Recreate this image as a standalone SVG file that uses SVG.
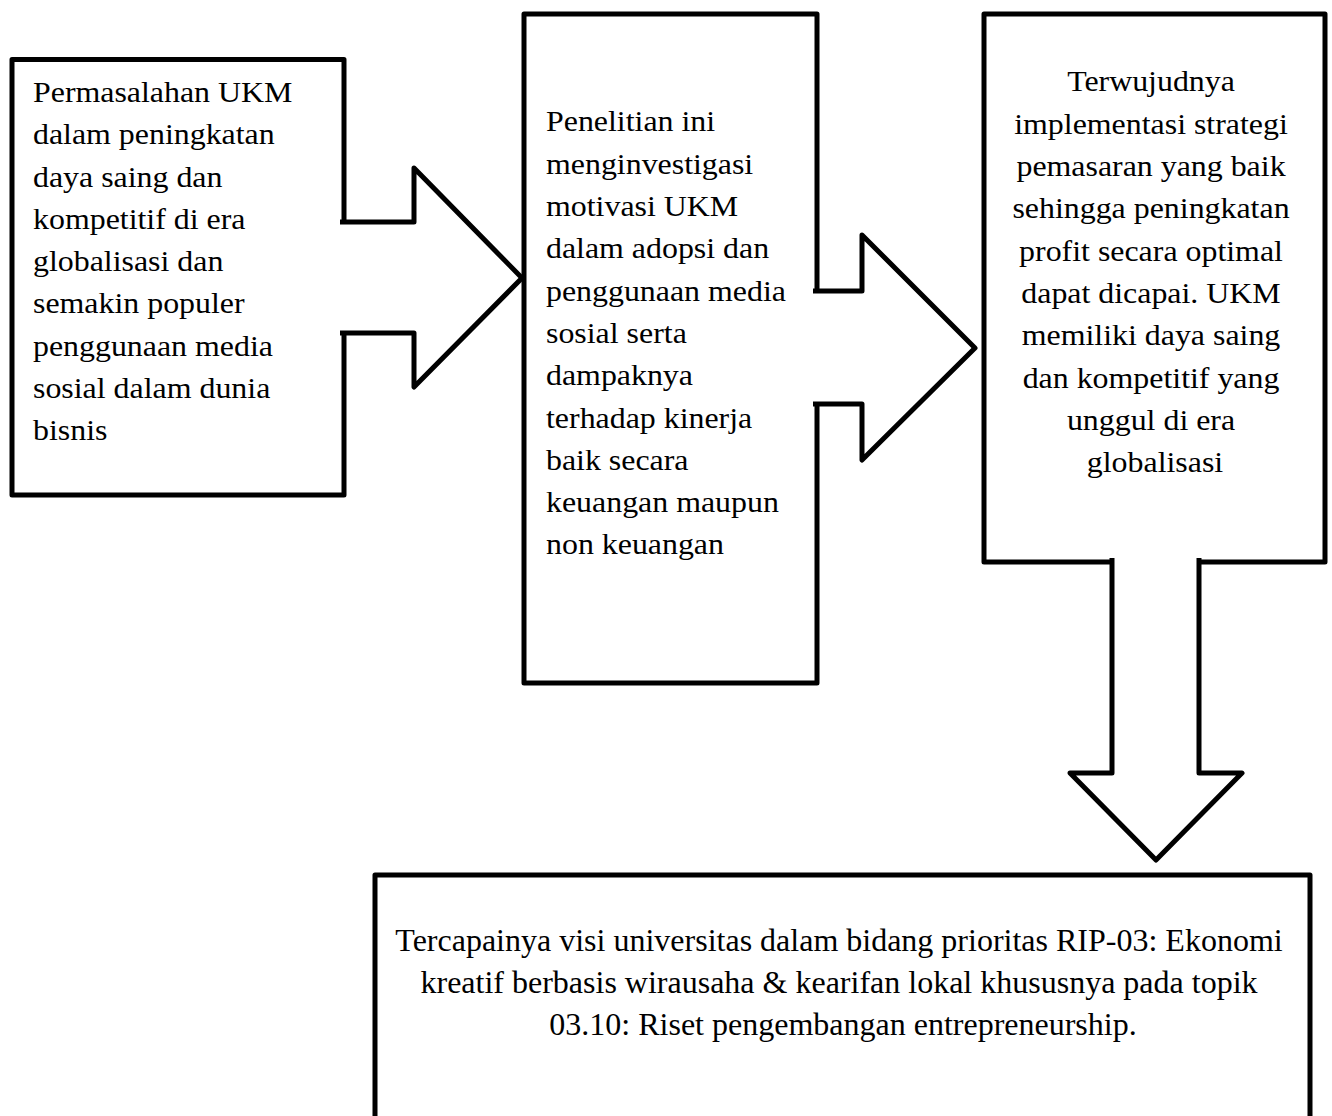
<svg xmlns="http://www.w3.org/2000/svg" width="1332" height="1116" viewBox="0 0 1332 1116">
<style>
.box{fill:#fff;stroke:#000;stroke-width:5;stroke-linejoin:round}
.arr{fill:#fff;stroke:#000;stroke-width:5;stroke-linejoin:round;stroke-linecap:butt}
.t{font-family:"Liberation Serif","Times New Roman",serif;font-size:29px;fill:#000}
.b{font-family:"Liberation Serif","Times New Roman",serif;font-size:32px;fill:#000}
</style>
<rect width="1332" height="1116" fill="#fff"/>
<g id="node1">
<rect class="box" x="12" y="59.5" width="332" height="435.5"/>
<text class="t" transform="translate(33,0) scale(1.1,1)">
<tspan x="0" y="102">Permasalahan UKM</tspan>
<tspan x="0" y="144.3">dalam peningkatan</tspan>
<tspan x="0" y="186.6">daya saing dan</tspan>
<tspan x="0" y="228.9">kompetitif di era</tspan>
<tspan x="0" y="271.2">globalisasi dan</tspan>
<tspan x="0" y="313.5">semakin populer</tspan>
<tspan x="0" y="355.8">penggunaan media</tspan>
<tspan x="0" y="398.1">sosial dalam dunia</tspan>
<tspan x="0" y="440.4">bisnis</tspan>
</text>
</g>
<g id="node2">
<rect class="box" x="524" y="14" width="293" height="669"/>
<text class="t" transform="translate(546,0) scale(1.1,1)">
<tspan x="0" y="131.5">Penelitian ini</tspan>
<tspan x="0" y="173.8">menginvestigasi</tspan>
<tspan x="0" y="216.1">motivasi UKM</tspan>
<tspan x="0" y="258.4">dalam adopsi dan</tspan>
<tspan x="0" y="300.7">penggunaan media</tspan>
<tspan x="0" y="343">sosial serta</tspan>
<tspan x="0" y="385.3">dampaknya</tspan>
<tspan x="0" y="427.6">terhadap kinerja</tspan>
<tspan x="0" y="469.9">baik secara</tspan>
<tspan x="0" y="512.2">keuangan maupun</tspan>
<tspan x="0" y="554.5">non keuangan</tspan>
</text>
</g>
<g id="node3">
<rect class="box" x="984" y="14" width="341" height="548"/>
<text class="t" text-anchor="middle" transform="translate(1155,0) scale(1.1,1)">
<tspan x="0" y="91.5">Terwujudnya</tspan>
<tspan x="0" y="133.8">implementasi strategi</tspan>
<tspan x="0" y="176.1">pemasaran yang baik</tspan>
<tspan x="0" y="218.4">sehingga peningkatan</tspan>
<tspan x="0" y="260.7">profit secara optimal</tspan>
<tspan x="0" y="303">dapat dicapai. UKM</tspan>
<tspan x="0" y="345.3">memiliki daya saing</tspan>
<tspan x="0" y="387.6">dan kompetitif yang</tspan>
<tspan x="0" y="429.9">unggul di era</tspan>
<tspan x="0" y="472.2">globalisasi</tspan>
</text>
</g>
<g id="node4">
<rect class="box" x="375" y="875" width="935" height="270"/>
<text class="b" text-anchor="middle">
<tspan x="843" y="951">Tercapainya visi universitas dalam bidang prioritas RIP-03: Ekonomi</tspan>
<tspan x="843" y="993">kreatif berbasis wirausaha &amp; kearifan lokal khususnya pada topik</tspan>
<tspan x="843" y="1035">03.10: Riset pengembangan entrepreneurship.</tspan>
</text>
</g>
<g id="connectors">
<path class="arr" d="M340,222 H414 V168 L522,278 L414,387 V333 H340"/>
<path class="arr" d="M813,291 H862 V235 L975,348 L862,460 V404 H813"/>
<path class="arr" d="M1112,558 V773 H1070 L1156,860 L1242,773 H1199 V558"/>
</g>
</svg>
